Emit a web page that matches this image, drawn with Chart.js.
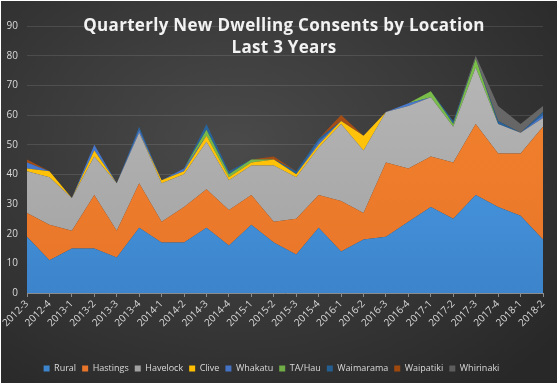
<!DOCTYPE html>
<html>
<head>
<meta charset="utf-8">
<script src="https://cdn.jsdelivr.net/npm/chart.js@4/dist/chart.umd.min.js"></script>
<style>
  html, body {
    margin: 0;
    padding: 0;
    background: #ffffff;
  }
  .frame {
    position: absolute;
    left: 1px;
    top: 1px;
    width: 556px;
    height: 382px;
    background: radial-gradient(ellipse 75% 80% at 42% 38%, #4a4a4a 0%, #3b3b3b 45%, #282828 100%);
    overflow: hidden;
  }
  .chart-title {
    position: absolute;
    left: 0;
    top: 13px;
    width: 566px;
    text-align: center;
    color: #f2f2f2;
    font-family: "Open Sans", sans-serif;
    font-weight: 700;
    font-size: 17px;
    line-height: 22px;
    letter-spacing: 0.3px;
    pointer-events: none;
  }
  canvas {
    position: absolute;
    left: -1px;
    top: -1px;
  }
</style>
</head>
<body>
<div class="frame">
  <canvas id="consents-chart" width="559" height="385"></canvas>
  <div class="chart-title">Quarterly New Dwelling Consents by Location<br>Last 3 Years</div>
</div>
<script>
const quarters = [
  "2012-3", "2012-4", "2013-1", "2013-2", "2013-3", "2013-4", "2014-1", "2014-2",
  "2014-3", "2014-4", "2015-1", "2015-2", "2015-3", "2015-4", "2016-1", "2016-2",
  "2016-3", "2016-4", "2017-1", "2017-2", "2017-3", "2017-4", "2018-1", "2018-2"
];

const rural = [19, 11, 15, 15, 12, 22, 17, 17, 22, 16, 23, 17, 13, 22, 14, 18, 19, 24, 29, 25, 33, 29, 26, 18];
const hastings = [8, 12, 6, 18, 9, 15, 7, 12, 13, 12, 10, 7, 12, 11, 17, 9, 25, 18, 17, 19, 24, 18, 21, 38];
const havelock = [14, 16, 11, 13, 16, 17, 13, 11, 16, 10, 10, 19, 14, 16, 26, 21, 17, 21, 20, 12, 19, 10, 7, 3];
const clive = [1, 2, 0, 2, 0, 0, 1, 1, 2, 1, 1, 2, 1, 1, 1, 5, 0, 0, 0, 0, 0, 0, 0, 0];
const whakatu = [2, 0, 0, 2, 0, 1, 0, 1, 0, 0, 0, 0, 0, 1, 0, 0, 0, 1, 0, 0, 0, 0, 0, 1];
const taHau = [0, 0, 0, 0, 0, 0, 0, 0, 2, 1, 1, 0, 0, 0, 0, 0, 0, 0, 2, 1, 3, 0, 0, 0];
const waimarama = [0, 0, 0, 0, 0, 1, 0, 0, 2, 1, 0, 0, 1, 1, 0, 0, 0, 0, 0, 1, 0, 1, 0, 1];
const waipatiki = [1, 0, 0, 0, 0, 0, 0, 0, 0, 0, 0, 1, 0, 0, 2, 0, 0, 0, 0, 0, 0, 0, 0, 0];
const whirinaki = [0, 0, 0, 0, 0, 0, 0, 0, 0, 0, 0, 0, 0, 0, 0, 0, 0, 0, 0, 0, 1, 5, 3, 2];

const yTicks = [0, 10, 20, 30, 40, 50, 60, 70, 80, 90];

const seriesList = [
  { label: "Rural", data: rural, top: "#52a6ee", bottom: "#3c84cc" },
  { label: "Hastings", data: hastings, top: "#f5852d", bottom: "#e8752a" },
  { label: "Havelock", data: havelock, top: "#b9b9b9", bottom: "#a2a2a2" },
  { label: "Clive", data: clive, top: "#ffc512", bottom: "#ffbf00" },
  { label: "Whakatu", data: whakatu, top: "#4a7cd0", bottom: "#4472c4" },
  { label: "TA/Hau", data: taHau, top: "#7cc24a", bottom: "#70ad47" },
  { label: "Waimarama", data: waimarama, top: "#2a67a0", bottom: "#255e91" },
  { label: "Waipatiki", data: waipatiki, top: "#a8501a", bottom: "#9e480e" },
  { label: "Whirinaki", data: whirinaki, top: "#6b6b6b", bottom: "#5e5e5e" }
];

const TEXT_COLOR = "#d9d9d9";
const FONT_FAMILY = "'Open Sans', sans-serif";

function verticalFill(series) {
  return (context) => {
    const area = context.chart.chartArea;
    if (!area) {
      return series.bottom;
    }
    const gradient = context.chart.ctx.createLinearGradient(0, area.top, 0, area.bottom);
    gradient.addColorStop(0, series.top);
    gradient.addColorStop(1, series.bottom);
    return gradient;
  };
}

new Chart(document.getElementById("consents-chart").getContext("2d"), {
  type: "line",
  data: {
    labels: quarters,
    datasets: seriesList.map((series, index) => ({
      label: series.label,
      data: series.data,
      fill: index === 0 ? "origin" : "-1",
      backgroundColor: verticalFill(series),
      borderColor: series.bottom,
      borderWidth: 0,
      pointRadius: 0,
      tension: 0
    }))
  },
  options: {
    responsive: false,
    animation: false,
    layout: {
      padding: { top: 26, left: 0, right: 16, bottom: 2 }
    },
    plugins: {
      legend: {
        position: "bottom",
        labels: {
          color: TEXT_COLOR,
          boxWidth: 6,
          boxHeight: 6,
          padding: 6,
          font: { family: FONT_FAMILY, size: 9 },
          generateLabels() {
            return seriesList.map((series, index) => ({
              text: series.label,
              fillStyle: series.bottom,
              strokeStyle: series.bottom,
              lineWidth: 0,
              fontColor: TEXT_COLOR,
              datasetIndex: index
            }));
          }
        }
      },
      tooltip: { enabled: false }
    },
    scales: {
      x: {
        offset: false,
        afterFit(scale) {
          scale.height = 65;
        },
        ticks: {
          color: TEXT_COLOR,
          maxRotation: 45,
          minRotation: 45,
          autoSkip: false,
          padding: 1,
          font: { family: FONT_FAMILY, size: 10 }
        },
        grid: {
          drawOnChartArea: false,
          drawTicks: true,
          tickLength: 4,
          color: "#8c8c8c"
        },
        border: {
          display: true,
          color: "#8c8c8c"
        }
      },
      y: {
        stacked: true,
        min: 0,
        max: 90,
        afterFit(scale) {
          scale.width = 27;
        },
        afterBuildTicks(scale) {
          scale.ticks = yTicks.map((value) => ({ value }));
        },
        ticks: {
          color: TEXT_COLOR,
          padding: 9,
          font: { family: FONT_FAMILY, size: 10 }
        },
        grid: {
          color: "rgba(255, 255, 255, 0.11)",
          drawTicks: false
        },
        border: {
          display: false
        }
      }
    }
  }
});
</script>
</body>
</html>
